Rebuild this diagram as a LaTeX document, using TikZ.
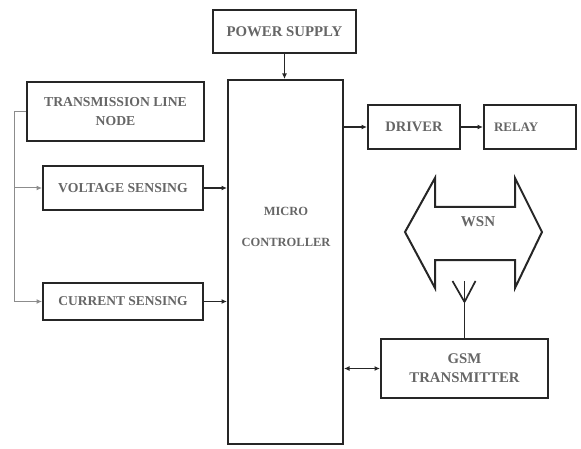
\documentclass[tikz,border=0pt]{standalone}
\usepackage{fontspec}
\setmainfont{Liberation Serif}
\usetikzlibrary{arrows.meta}

\begin{document}
\begin{tikzpicture}[x=1pt,y=-1pt,>={Latex[length=5.5pt,width=5pt]},
 txt/.style={text=black!60,font=\bfseries\fontsize{#1}{19}\selectfont,align=center},
 txt/.default=12.5,
 blk/.style={txt=#1,draw=black!85,line width=2pt,inner sep=0pt},
 blk/.default=12.5,
 wire/.style={line width=1.7pt,black!85},
 buswire/.style={line width=1pt,black!45}]
\useasboundingbox (0,0) rectangle (581,449);
% blocks
\node[blk=14.8,minimum width=143,minimum height=43] (pw) at (284.5,31.5) {POWER SUPPLY};
\node[blk,minimum width=115,minimum height=364] (mc) at (285.5,262) {};
\node[txt] (mclbl) at (286,227) {MICRO\\[12pt]CONTROLLER};
\node[blk=13.7,minimum width=177,minimum height=59] (tln) at (115.5,111.5) {TRANSMISSION LINE\\NODE};
\node[blk=13.7,minimum width=160,minimum height=44] (vs) at (123,188) {VOLTAGE SENSING};
\node[blk=13.5,minimum width=160,minimum height=37] (cs) at (123,301.5) {CURRENT SENSING};
\node[blk=14.5,minimum width=92,minimum height=44] (drv) at (414,127) {DRIVER};
\node[blk=13,minimum width=92,minimum height=44,text width=72,align=left] (rly) at (530,127) {RELAY};
\node[blk=14.8,minimum width=167,minimum height=59] (gsm) at (464.5,368.5) {GSM\\TRANSMITTER};
% WSN link
\draw[line width=2pt,black!85] (405,232) -- (435,178) -- (435,207) -- (515,207) -- (515,178)
 -- (542,232) -- (515,288) -- (515,260) -- (435,260) -- (435,288) -- cycle;
\node[txt=15] (wsn) at (478,222) {WSN};
% antenna
\draw[wire] (gsm.north) -- ++(0,-57) coordinate (ant);
\coordinate (antj) at ([yshift=36]gsm.north);
\draw[wire] (antj) -- ([xshift=-12]ant);
\draw[wire] (antj) -- ([xshift=11]ant);
% connections
\coordinate (bus) at (14,0);
\draw[buswire,->] (tln.west) -| (bus |- cs.west) -- (cs.west);
\draw[buswire,->] (bus |- vs.west) -- (vs.west);
\draw[wire,->] (vs.east) -- (vs.east -| mc.west);
\draw[wire,->] (cs.east) -- (cs.east -| mc.west);
\draw[wire,->] (pw.south) -- (pw.south |- mc.north);
\draw[wire,->] (drv.west -| mc.east) -- (drv.west);
\draw[wire,->] (drv) -- (rly);
\draw[wire,<->] (gsm.west -| mc.east) -- (gsm.west);
\end{tikzpicture}
\end{document}
